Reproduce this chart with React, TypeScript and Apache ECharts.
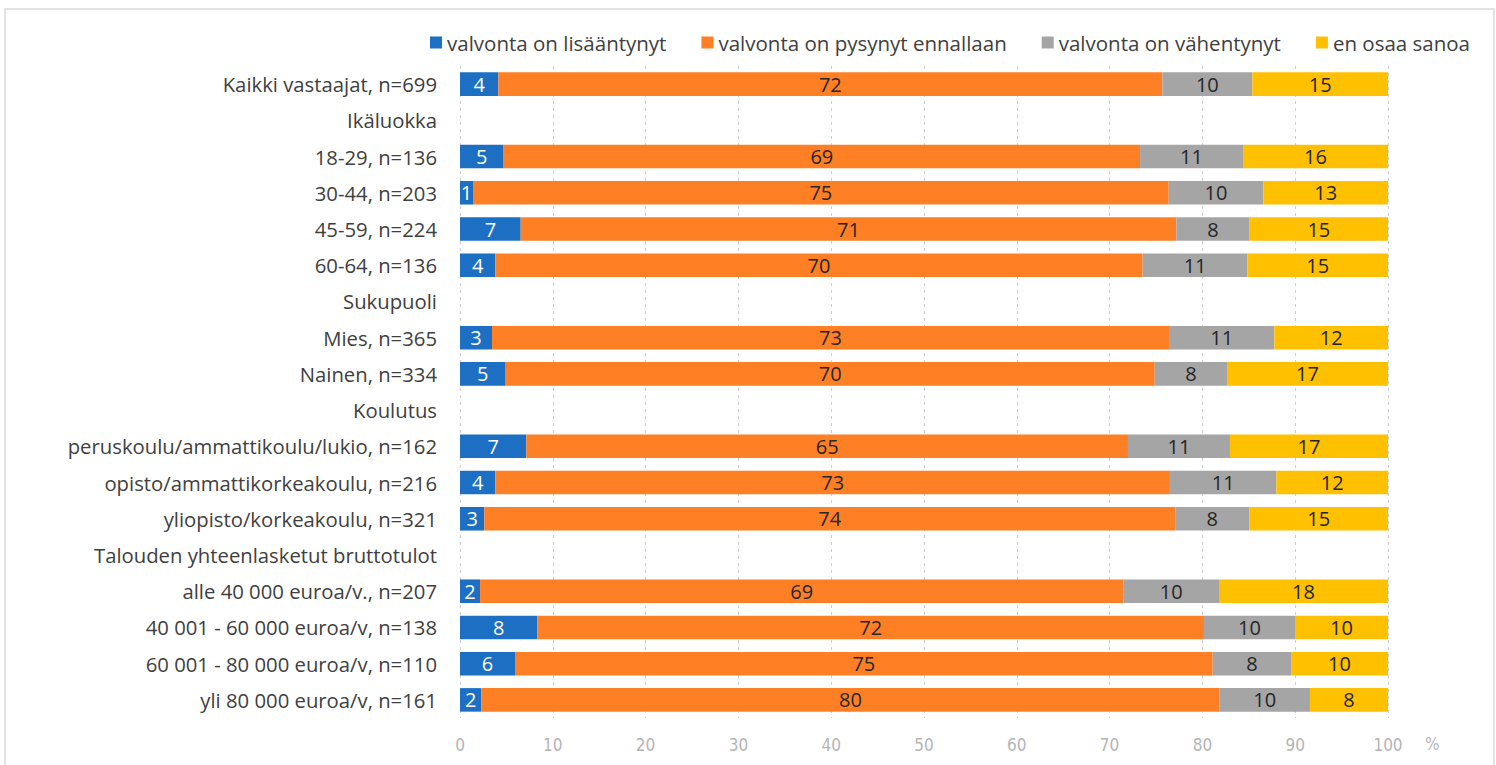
import React, { useEffect, useRef } from "react";
import * as echarts from "echarts";

const categories = [
  "Kaikki vastaajat, n=699",
  "Ikäluokka",
  "18-29, n=136",
  "30-44, n=203",
  "45-59, n=224",
  "60-64, n=136",
  "Sukupuoli",
  "Mies, n=365",
  "Nainen, n=334",
  "Koulutus",
  "peruskoulu/ammattikoulu/lukio, n=162",
  "opisto/ammattikorkeakoulu, n=216",
  "yliopisto/korkeakoulu, n=321",
  "Talouden yhteenlasketut bruttotulot",
  "alle 40 000 euroa/v., n=207",
  "40 001 - 60 000 euroa/v, n=138",
  "60 001 - 80 000 euroa/v, n=110",
  "yli 80 000 euroa/v, n=161",
];

const seriesNames = [
  "valvonta on lisääntynyt",
  "valvonta on pysynyt ennallaan",
  "valvonta on vähentynyt",
  "en osaa sanoa",
];

const increased = [4.13, null, 4.7, 1.4, 6.54, 3.81, null, 3.45, 4.92, null, 7.15, 3.81, 2.62, null, 2.16, 8.33, 5.93, 2.3];
const unchanged = [71.55, null, 68.58, 74.97, 70.65, 69.75, null, 72.95, 69.94, null, 64.83, 72.69, 74.46, null, 69.32, 71.84, 75.18, 79.56];
const decreased = [9.7, null, 11.1, 10.2, 7.9, 11.3, null, 11.35, 7.79, null, 10.99, 11.47, 7.97, null, 10.31, 9.81, 8.45, 9.73];
const cannotSay = [14.62, null, 15.62, 13.43, 14.91, 15.14, null, 12.25, 17.35, null, 17.03, 12.03, 14.95, null, 18.21, 10.02, 10.44, 8.41];

const xTicks = { min: 0, max: 100, interval: 10 };

const colors = ["#1C6FC3", "#FF7F24", "#A5A5A5", "#FFC000"];
const labelColors = ["#ffffff", "#262626", "#262626", "#262626"];
const FONT = "Open Sans";

export default function App() {
  const ref = useRef<HTMLDivElement>(null);
  useEffect(() => {
    if (!ref.current) return;
    const chart = echarts.init(ref.current, null, { renderer: "svg" });
    const allData = [increased, unchanged, decreased, cannotSay];
    chart.setOption({
      animation: false,
      textStyle: { fontFamily: FONT },
      legend: {
        top: 27,
        right: 21,
        itemWidth: 12,
        itemHeight: 12,
        itemGap: 35,
        icon: "rect",
        textStyle: { fontSize: 20.5, color: "#404040", fontFamily: FONT },
        data: seriesNames,
      },
      grid: { left: 460, right: 108, top: 66, bottom: 47 },
      xAxis: {
        type: "value",
        min: xTicks.min,
        max: xTicks.max,
        interval: xTicks.interval,
        axisLine: { show: false },
        axisTick: { show: false },
        splitLine: { show: true, lineStyle: { type: [3, 4], color: "#cfcfcf" } },
        axisLabel: { color: "#b4b4b4", fontSize: 17, margin: 18, fontFamily: "DejaVu Sans Condensed" },
      },
      yAxis: {
        type: "category",
        inverse: true,
        data: categories,
        axisLine: { show: false },
        axisTick: { show: false },
        axisLabel: { color: "#404040", fontSize: 20.3, margin: 23, fontFamily: FONT },
      },
      graphic: [
        {
          type: "rect",
          shape: { x: 5, y: 9, width: 1489, height: 800 },
          style: { fill: "none", stroke: "#d9d9d9", lineWidth: 1.5 },
          silent: true,
        },
        {
          type: "text",
          left: 1425,
          top: 735,
          style: { text: "%", fill: "#b4b4b4", font: "17px 'DejaVu Sans Condensed'" },
        },
      ],
      series: seriesNames.map((name, i) => ({
        name,
        type: "bar",
        stack: "total",
        barCategoryGap: "35%",
        data: allData[i],
        itemStyle: { color: colors[i] },
        label: {
          show: true,
          position: "inside",
          color: labelColors[i],
          fontSize: 20,
          fontFamily: FONT,
          formatter: (p: any) => (p.value == null ? "" : String(Math.round(p.value))),
        },
      })),
    });
    return () => chart.dispose();
  }, []);
  return (
    <div
      ref={ref}
      style={{ position: "fixed", left: 0, top: 0, width: 1496, height: 765, background: "#fff" }}
    />
  );
}
